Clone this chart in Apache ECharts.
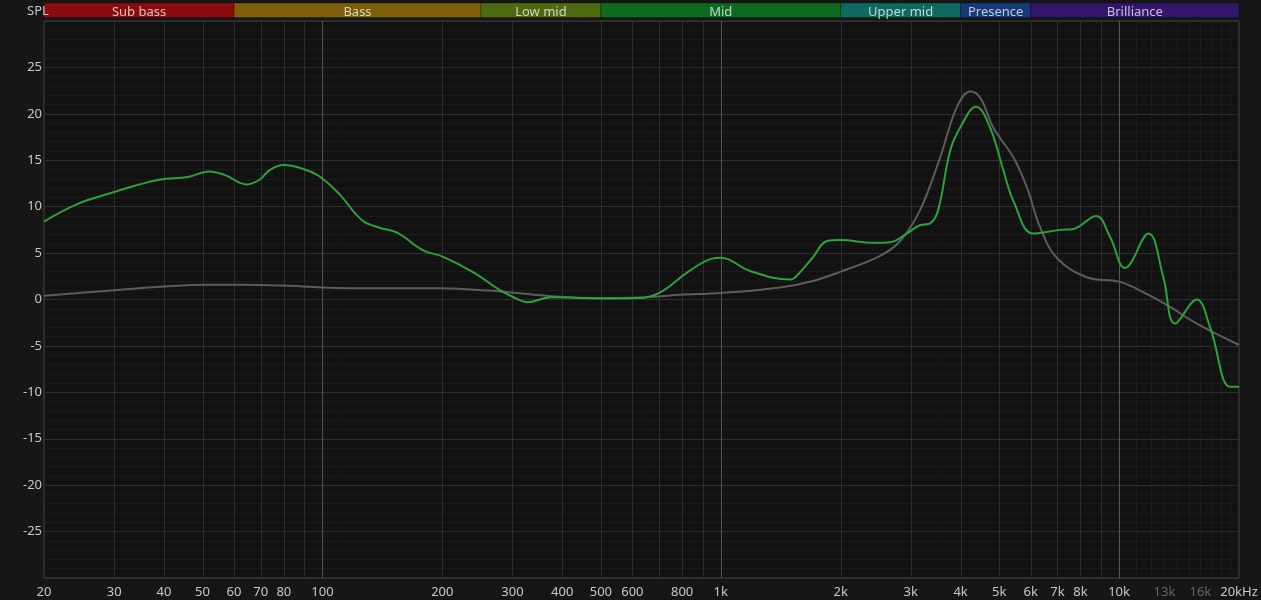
<!DOCTYPE html>
<html>
<head>
<meta charset="utf-8">
<script src="https://cdn.jsdelivr.net/npm/echarts@6/dist/echarts.min.js"></script>
<style>
html, body { margin: 0; padding: 0; background: #161616; }
#main { width: 1261px; height: 600px; }
</style>
</head>
<body>
<div id="main"></div>
<script>
// target curve (grey)
var targetFreq = [20, 30, 40, 51, 63, 80, 100, 135, 197, 250, 277, 365, 490, 650, 785, 1000, 1410, 1705, 2000, 2512, 2820, 3163, 3554, 3913, 4227, 4479, 4835, 5430, 5866, 6334, 6975, 8297, 10056, 11725, 13430, 15670, 20000];
var targetDb = [0.4, 1.0, 1.4, 1.6, 1.6, 1.5, 1.3, 1.2, 1.2, 1.0, 0.9, 0.4, 0.15, 0.25, 0.5, 0.7, 1.3, 2.0, 3.0, 4.7, 6.3, 9.6, 15.3, 20.7, 22.4, 21.75, 18.5, 15.3, 12.1, 7.8, 4.5, 2.4, 1.9, 0.6, -0.8, -2.6, -4.9];

// measured curve (green)
var measFreq = [20, 24.3, 29.6, 33.5, 39, 46, 52, 57, 64.5, 69.5, 74, 80, 89, 98, 110, 126, 140, 154, 179, 201, 240, 279, 300, 328, 374, 430, 490, 623, 707, 823, 950, 1000, 1050, 1180, 1495, 1570, 1700, 1850, 2000, 2410, 2680, 2930, 3160, 3354, 3512, 3765, 3988, 4376, 4744, 5124, 5430, 6094, 7110, 7677, 8754, 9498, 10350, 11846, 12914, 13820, 15670, 16924, 19000, 20000];
var measDb = [8.4, 10.3, 11.5, 12.2, 12.9, 13.2, 13.8, 13.4, 12.4, 12.9, 14.0, 14.5, 14.1, 13.3, 11.4, 8.5, 7.7, 7.2, 5.3, 4.6, 2.9, 1.0, 0.3, -0.3, 0.25, 0.2, 0.1, 0.15, 0.8, 2.9, 4.4, 4.5, 4.3, 3.1, 2.15, 2.8, 4.5, 6.3, 6.4, 6.1, 6.2, 7.1, 8.0, 8.2, 9.6, 16.0, 18.5, 20.75, 18.5, 13.9, 10.6, 7.1, 7.5, 7.6, 9.0, 6.7, 3.4, 7.1, 2.4, -2.6, 0, -3.0, -9.4, -9.4];

// axis labels
var tickFreq = [20, 30, 40, 50, 60, 70, 80, 100, 200, 300, 400, 500, 600, 800, 1000, 2000, 3000, 4000, 5000, 6000, 7000, 8000, 10000, 13000, 16000, 20000];
var tickLabels = ['20', '30', '40', '50', '60', '70', '80', '100', '200', '300', '400', '500', '600', '800', '1k', '2k', '3k', '4k', '5k', '6k', '7k', '8k', '10k', '13k', '16k', '20kHz'];
var dimLabels = ['13k', '16k'];

// vertical grid lines
var gridFreq = [30, 40, 50, 60, 70, 80, 90, 200, 300, 400, 500, 600, 700, 800, 900, 2000, 3000, 4000, 5000, 6000, 7000, 8000, 9000];
var decadeFreq = [100, 1000, 10000];
var minorFreq = [11000, 12000, 13000, 14000, 15000, 16000, 17000, 18000, 19000];

// frequency bands
var bandNames = ['Sub bass', 'Bass', 'Low mid', 'Mid', 'Upper mid', 'Presence', 'Brilliance'];
var bandStart = [20, 60, 250, 500, 2000, 4000, 6000];
var bandEnd = [60, 250, 500, 2000, 4000, 6000, 20000];

var bandColors = ['#8b0c0c', '#7c5e08', '#4d6a10', '#0d6a1f', '#0e6a5e', '#163a78', '#34166a'];
var FONT = 'Noto Sans';

function lg(f) { return Math.log10(f); }

function pairs(fs, ds) {
    return fs.map(function (f, i) { return [lg(f), ds[i]]; });
}

function vlineItem(color) {
    return function (params, api) {
        var a = api.coord([api.value(0), 30]);
        var b = api.coord([api.value(0), -30]);
        return {
            type: 'line',
            shape: { x1: Math.round(a[0]) + 0.5, y1: a[1], x2: Math.round(a[0]) + 0.5, y2: b[1] },
            style: { stroke: color, lineWidth: 1 }
        };
    };
}

function renderBand(params, api) {
    var s = api.coord([api.value(0), 1]);
    var e = api.coord([api.value(1), 0]);
    var i = api.value(2);
    return {
        type: 'rect',
        shape: { x: s[0], y: s[1], width: e[0] - s[0], height: e[1] - s[1] },
        style: { fill: bandColors[i], stroke: 'rgba(0,0,0,0.25)', lineWidth: 1 },
        textContent: {
            style: { text: bandNames[i], fill: 'rgba(255,255,255,0.72)', fontSize: 13, fontFamily: FONT }
        },
        textConfig: { position: 'inside', offset: [0, 2] }
    };
}

var myChart = echarts.init(document.getElementById('main'));

var option = {
    backgroundColor: '#161616',
    animation: false,
    title: {
        text: 'SPL', left: 22, top: 0,
        textStyle: { color: '#c8c8c8', fontSize: 13, fontWeight: 'normal', fontFamily: FONT }
    },
    grid: [
        { left: 44, right: 22, top: 21, bottom: 22, show: true, backgroundColor: '#121212', borderColor: '#444', borderWidth: 1 },
        { left: 44, right: 22, top: 3, height: 14.5 }
    ],
    xAxis: [
        {
            type: 'value', gridIndex: 0, min: lg(20), max: lg(20000),
            axisLine: { show: false }, axisTick: { show: false }, splitLine: { show: false },
            axisLabel: {
                customValues: tickFreq.map(lg),
                color: '#c8c8c8', fontSize: 13, fontFamily: FONT, margin: 8,
                formatter: function (v) {
                    var best = 0;
                    tickFreq.forEach(function (f, i) {
                        if (Math.abs(lg(f) - v) < Math.abs(lg(tickFreq[best]) - v)) best = i;
                    });
                    var t = tickLabels[best];
                    return dimLabels.indexOf(t) >= 0 ? '{dim|' + t + '}' : t;
                },
                rich: { dim: { color: '#666', fontSize: 13, fontFamily: FONT } }
            }
        },
        {
            type: 'value', gridIndex: 1, min: lg(20), max: lg(20000), show: false
        }
    ],
    yAxis: [
        {
            type: 'value', gridIndex: 0, min: -30, max: 30, interval: 5,
            axisLine: { show: false }, axisTick: { show: false },
            axisLabel: {
                color: '#c8c8c8', fontSize: 13, fontFamily: FONT, margin: 2,
                formatter: function (v) { return Math.abs(v) === 30 ? '' : String(v); }
            },
            splitLine: { lineStyle: { color: '#2e2e2e', width: 1 } },
            minorTick: { show: false, splitNumber: 5 },
            minorSplitLine: { show: true, lineStyle: { color: '#1b1b1b', width: 1 } }
        },
        { type: 'value', gridIndex: 1, min: 0, max: 1, show: false }
    ],
    series: [
        {
            type: 'custom', xAxisIndex: 0, yAxisIndex: 0, z: 1, silent: true,
            renderItem: vlineItem('#1d1d1d'), encode: { x: 0, y: 1 },
            data: minorFreq.map(function (f) { return [lg(f), 0]; })
        },
        {
            type: 'custom', xAxisIndex: 0, yAxisIndex: 0, z: 1, silent: true,
            renderItem: vlineItem('#2e2e2e'), encode: { x: 0, y: 1 },
            data: gridFreq.map(function (f) { return [lg(f), 0]; })
        },
        {
            type: 'custom', xAxisIndex: 0, yAxisIndex: 0, z: 1, silent: true,
            renderItem: vlineItem('#555'), encode: { x: 0, y: 1 },
            data: decadeFreq.map(function (f) { return [lg(f), 0]; })
        },
        {
            type: 'custom', xAxisIndex: 1, yAxisIndex: 1, silent: true,
            renderItem: renderBand, encode: { x: [0, 1], y: 3 },
            data: bandNames.map(function (n, i) { return [lg(bandStart[i]), lg(bandEnd[i]), i, 0]; })
        },
        {
            name: 'Target', type: 'line', xAxisIndex: 0, yAxisIndex: 0, z: 3,
            smooth: 0.4, showSymbol: false, silent: true,
            lineStyle: { color: '#5c5c5c', width: 2 },
            data: pairs(targetFreq, targetDb)
        },
        {
            name: 'Measured', type: 'line', xAxisIndex: 0, yAxisIndex: 0, z: 4,
            smooth: 0.4, showSymbol: false, silent: true,
            lineStyle: { color: '#2da23a', width: 2 },
            data: pairs(measFreq, measDb)
        }
    ]
};

myChart.setOption(option);
</script>
</body>
</html>
